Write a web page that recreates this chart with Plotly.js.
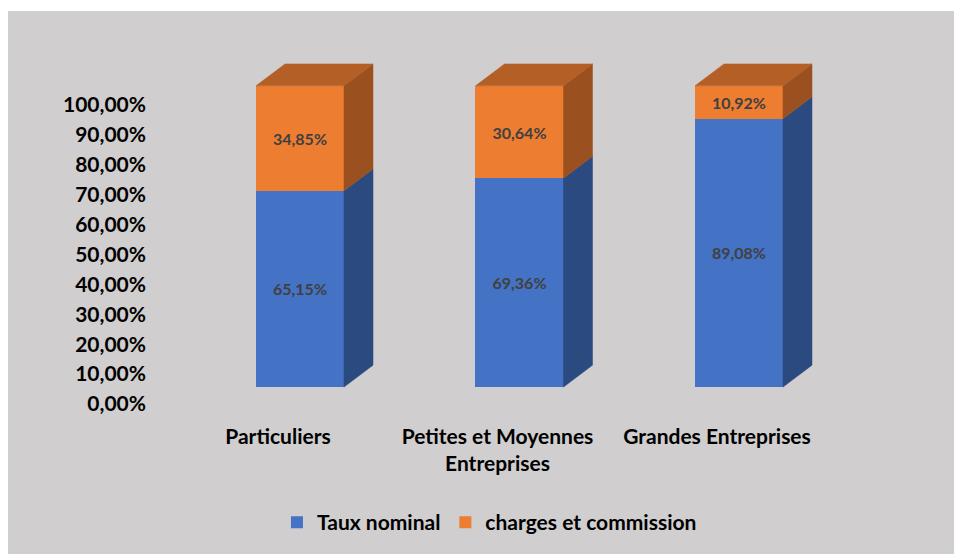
<!DOCTYPE html>
<html>
<head>
<meta charset="utf-8">
<script src="https://cdn.plot.ly/plotly-3.0.1.min.js"></script>
<style>
  html, body { margin: 0; padding: 0; background: #ffffff; }
  #chart { position: absolute; left: 8px; top: 11px; width: 946px; height: 543px; }
</style>
</head>
<body>
<div id="chart"></div>
<script>
// ---- data ----
const categories = ['Particuliers', 'Petites et Moyennes Entreprises', 'Grandes Entreprises'];
const categoryTickLabels = ['Particuliers', 'Petites et Moyennes<br>Entreprises', 'Grandes Entreprises'];
const seriesNames = ['Taux nominal', 'charges et commission'];
const tauxNominal = [0.6515, 0.6936, 0.8908];
const chargesCommission = [0.3485, 0.3064, 0.1092];
const yTickValues = [0, 0.1, 0.2, 0.3, 0.4, 0.5, 0.6, 0.7, 0.8, 0.9, 1.0];

// ---- style ----
const FONT = 'Lato, "Open Sans", sans-serif';
const frontColors = ['#4472C4', '#ED7D31'];
const sideColors = ['#2B4A80', '#9A501F'];
const topColors = ['#34599C', '#B45F25'];
const barWidth = 0.401;
const depthX = 0.1321;   // 3D depth offset in x units
const depthY = 0.0728;   // 3D depth offset in y units

const idx = categories.map((_, i) => i);
const seriesValues = [tauxNominal, chargesCommission];

// cumulative bases
const bases = [idx.map(() => 0), idx.map(i => tauxNominal[i])];
const tops = [idx.map(i => tauxNominal[i]), idx.map(i => tauxNominal[i] + chargesCommission[i])];

const traces = [];

// side faces
seriesValues.forEach((vals, s) => {
  const xs = [], ys = [];
  idx.forEach(i => {
    const x1 = i + barWidth / 2;
    const b = bases[s][i], t = tops[s][i];
    xs.push(x1, x1 + depthX, x1 + depthX, x1, x1, null);
    ys.push(b, b + depthY, t + depthY, t, b, null);
  });
  traces.push({
    type: 'scatter', mode: 'lines', x: xs, y: ys, fill: 'toself',
    fillcolor: sideColors[s], line: { color: sideColors[s], width: 0.5 },
    hoverinfo: 'skip', showlegend: false
  });
});

// top faces (top of the stack only)
{
  const xs = [], ys = [];
  idx.forEach(i => {
    const x0 = i - barWidth / 2, x1 = i + barWidth / 2;
    const t = tops[1][i];
    xs.push(x0, x1, x1 + depthX, x0 + depthX, x0, null);
    ys.push(t, t, t + depthY, t + depthY, t, null);
  });
  traces.push({
    type: 'scatter', mode: 'lines', x: xs, y: ys, fill: 'toself',
    fillcolor: topColors[1], line: { color: topColors[1], width: 0.5 },
    hoverinfo: 'skip', showlegend: false
  });
}

// front faces
seriesValues.forEach((vals, s) => {
  traces.push({
    type: 'bar', name: seriesNames[s], x: idx, y: vals, width: barWidth,
    marker: { color: frontColors[s], line: { width: 0 } },
    texttemplate: '%{y:.2%}', textposition: 'inside', insidetextanchor: 'middle',
    constraintext: 'none', textangle: 0,
    textfont: { family: FONT, size: 16, color: '#404040', weight: 700 },
    hoverinfo: 'skip'
  });
});

const layout = {
  width: 946, height: 543,
  margin: { l: 142, r: 74, t: 29, b: 134, pad: 0 },
  paper_bgcolor: '#D0CECE', plot_bgcolor: 'rgba(0,0,0,0)',
  separators: ', ',
  barmode: 'stack',
  font: { family: FONT, color: '#000000' },
  xaxis: { range: [-0.6834, 2.6424], showgrid: false, zeroline: false, showline: false,
           showticklabels: false, ticks: '', fixedrange: true },
  yaxis: { range: [-0.106, 1.1523], showgrid: false, zeroline: false, showline: false,
           showticklabels: false, ticks: '', fixedrange: true },
  xaxis2: { overlaying: 'x', anchor: 'y', side: 'bottom', range: [-0.5831, 2.7426],
            tickmode: 'array', tickvals: idx, ticktext: categoryTickLabels,
            showgrid: false, zeroline: false, showline: false, ticks: '',
            ticklabelstandoff: 3,
            tickfont: { family: FONT, size: 21, color: '#000000', weight: 700 } },
  yaxis2: { overlaying: 'y', anchor: 'x', side: 'left', range: [-0.05, 1.2167],
            tickmode: 'array', tickvals: yTickValues, tickformat: '.2%',
            showgrid: false, zeroline: false, showline: false, ticks: '',
            ticklabelstandoff: 3,
            tickfont: { family: FONT, size: 21, color: '#000000', weight: 700 } },
  showlegend: true,
  legend: { orientation: 'h', x: 0.465, xanchor: 'center', y: -0.27, yanchor: 'middle',
            traceorder: 'normal', bgcolor: 'rgba(0,0,0,0)',
            font: { family: FONT, size: 21, color: '#000000', weight: 700 } }
};

// dummy trace to activate overlay axes for labels
traces.push({ type: 'scatter', x: [], y: [], xaxis: 'x2', yaxis: 'y2', showlegend: false, hoverinfo: 'skip' });

Plotly.newPlot('chart', traces, layout, { displayModeBar: false, staticPlot: true });
</script>
</body>
</html>
